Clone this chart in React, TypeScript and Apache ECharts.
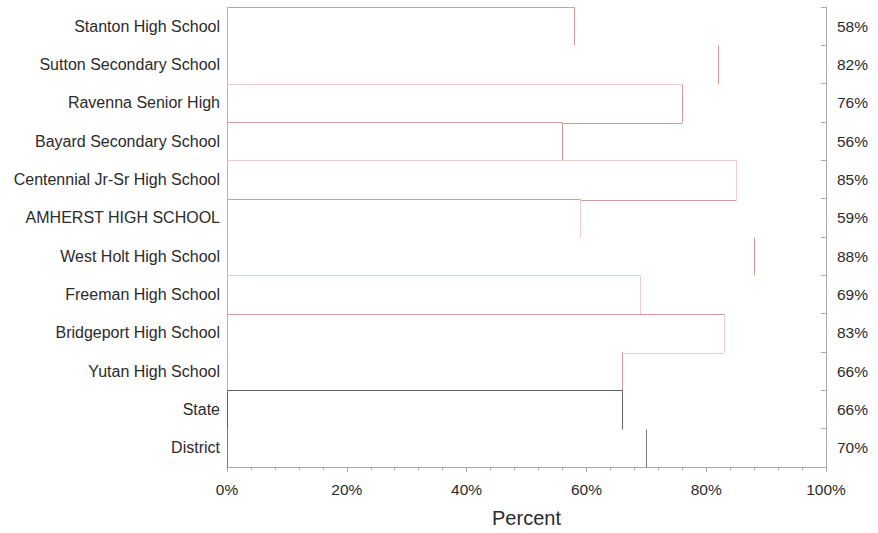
import React, { useEffect, useRef } from "react";
import * as echarts from "echarts";

const categories = [
  "Stanton High School",
  "Sutton Secondary School",
  "Ravenna Senior High",
  "Bayard Secondary School",
  "Centennial Jr-Sr High School",
  "AMHERST HIGH SCHOOL",
  "West Holt High School",
  "Freeman High School",
  "Bridgeport High School",
  "Yutan High School",
  "State",
  "District",
];

const values = [58, 82, 76, 56, 85, 59, 88, 69, 83, 66, 66, 70];

const xTicks = [0, 20, 40, 60, 80, 100];

// styling per row (not data)
const M = "#d59a9a";
const L = "#eecccc";
const D = "#606060";
const G = "#7c7c7c";
const LEFT_PINK = "#d4aaaa";
type RowStyle = { frame: boolean; top?: string; side: string; bottom?: string; left: string };
const rowStyles: RowStyle[] = [
  { frame: true, top: M, side: M, left: LEFT_PINK },
  { frame: false, side: M, left: LEFT_PINK },
  { frame: true, top: L, side: M, bottom: M, left: LEFT_PINK },
  { frame: true, top: M, side: M, left: LEFT_PINK },
  { frame: true, top: L, side: L, bottom: M, left: LEFT_PINK },
  { frame: true, top: M, side: L, left: LEFT_PINK },
  { frame: false, side: M, left: LEFT_PINK },
  { frame: true, top: L, side: L, left: LEFT_PINK },
  { frame: true, top: M, side: L, bottom: L, left: LEFT_PINK },
  { frame: false, side: M, left: LEFT_PINK },
  { frame: true, top: D, side: D, left: D },
  { frame: false, side: G, left: G },
];

const FONT = "'Liberation Sans', Arial, Helvetica, sans-serif";

const crisp = (v: number) => Math.round(v) + 0.5;

export default function App() {
  const ref = useRef<HTMLDivElement>(null);
  useEffect(() => {
    if (!ref.current) return;
    const chart = echarts.init(ref.current, undefined, { renderer: "svg" });
    const data = values.map((v, i) => [v, i]);
    chart.setOption({
      animation: false,
      backgroundColor: "#ffffff",
      grid: { left: 227, right: 52, top: 7, bottom: 65, containLabel: false },
      xAxis: {
        type: "value",
        min: xTicks[0],
        max: xTicks[xTicks.length - 1],
        interval: 20,
        axisLine: { show: true, lineStyle: { color: "#aaaaaa", width: 1 } },
        axisTick: { show: true, length: 5, lineStyle: { color: "#aaaaaa" } },
        minorTick: { show: true, splitNumber: 5, length: 3, lineStyle: { color: "#aaaaaa" } },
        splitLine: { show: false },
        axisLabel: {
          formatter: "{value}%",
          color: "#2b2b2b",
          fontSize: 15.5,
          fontFamily: FONT,
          margin: 14,
        },
        name: "Percent",
        nameLocation: "middle",
        nameGap: 41,
        nameTextStyle: { fontSize: 20, color: "#2b2b2b", fontFamily: FONT },
      },
      yAxis: [
        {
          type: "category",
          inverse: true,
          data: categories,
          axisLine: { show: false },
          axisTick: { show: false },
          axisLabel: { color: "#2b2b2b", fontSize: 16, fontFamily: FONT, margin: 7 },
        },
        {
          type: "category",
          inverse: true,
          position: "right",
          data: values.map((v) => v + "%"),
          axisLine: { show: true, lineStyle: { color: "#aaaaaa" } },
          axisTick: { show: true, inside: true, length: 5, lineStyle: { color: "#aaaaaa" } },
          axisLabel: { color: "#2b2b2b", fontSize: 15.5, fontFamily: FONT, margin: 11 },
        },
      ],
      series: [
        {
          type: "custom",
          xAxisIndex: 0,
          yAxisIndex: 0,
          data,
          renderItem: (params: any, api: any) => {
            const i = api.value(1);
            const v = api.value(0);
            const st = rowStyles[i];
            const c0 = api.coord([0, i]);
            const cv = api.coord([v, i]);
            const h = api.size([0, 1])[1];
            const top = c0[1] - h / 2;
            const bot = c0[1] + h / 2;
            const x0 = crisp(c0[0]);
            const xv = crisp(cv[0]);
            const yt = crisp(top);
            const yb = crisp(bot);
            const children: any[] = [];
            const line = (x1: number, y1: number, x2: number, y2: number, color: string) =>
              children.push({
                type: "line",
                shape: { x1, y1, x2, y2 },
                style: { stroke: color, lineWidth: 1, fill: null },
              });
            line(x0, yt, x0, yb, st.left);
            line(xv, yt, xv, yb, st.side);
            if (st.frame && st.top) line(x0, yt, xv, yt, st.top);
            if (st.frame && st.bottom && i + 1 < values.length) {
              const nv = values[i + 1];
              if (nv < v) {
                const xn = crisp(api.coord([nv, i])[0]);
                line(xn, yb + 1, xv, yb + 1, st.bottom);
              }
            }
            return { type: "group", children };
          },
        },
      ],
    });
    return () => chart.dispose();
  }, []);
  return (
    <div
      ref={ref}
      style={{ position: "fixed", left: 0, top: 0, width: 878, height: 533 }}
    />
  );
}
